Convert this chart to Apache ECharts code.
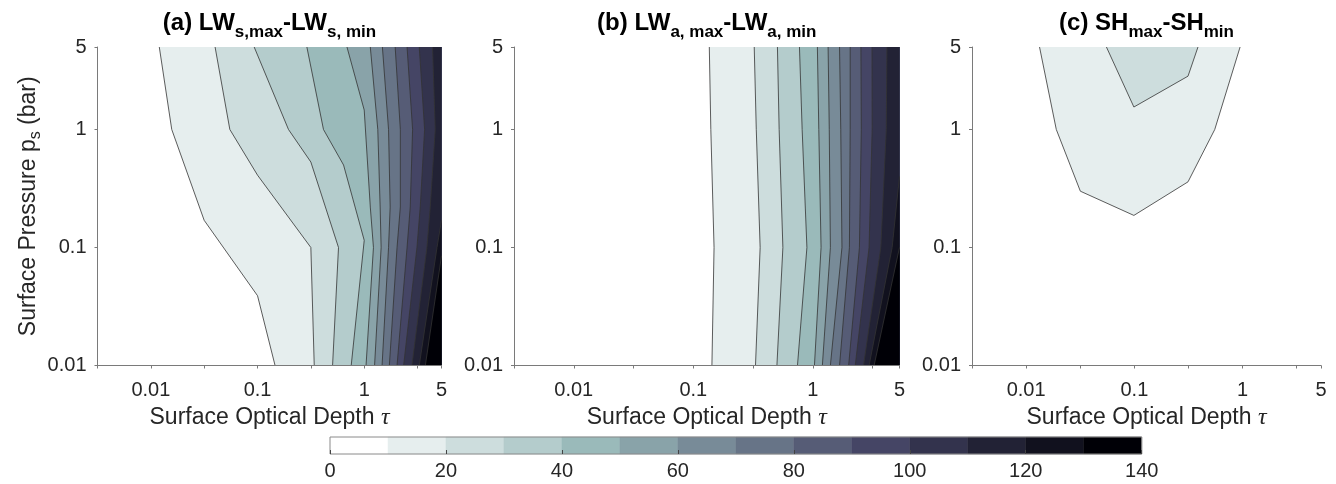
<!DOCTYPE html>
<html>
<head>
<meta charset="utf-8">
<script src="https://cdn.jsdelivr.net/npm/echarts@6/dist/echarts.min.js"></script>
<style>
  html, body { margin: 0; padding: 0; background: #ffffff; }
  #chart { width: 1336px; height: 484px; }
</style>
</head>
<body>
<div id="chart"></div>
<script>
// ---------------------------------------------------------------------------
// Data
// ---------------------------------------------------------------------------
// Contour levels (W m^-2); bands are 10 wide from 0 to 140.
const levels = [0, 10, 20, 30, 40, 50, 60, 70, 80, 90, 100, 110, 120, 130, 140];

// Axis ranges: surface optical depth tau (x) and surface pressure p_s in bar (y).
const tauRange = [Math.pow(10, -2.5), 5.3];
const pRange = [0.01, 5];

// Labelled ticks.
const tauTickValues = [0.01, 0.1, 1, 5.3];
const tauTickText = ['0.01', '0.1', '1', '5'];
const pTickValues = [0.01, 0.1, 1, 5];
const pTickText = ['0.01', '0.1', '1', '5'];
const cbarTickStep = 20;

// Each contour is a path of [tau, p_s] vertices, one path per level.
// (a) LW_s,max - LW_s,min
const lwsLevels = [10, 20, 30, 40, 50, 60, 70, 80, 90, 100, 110, 120, 130];
const lwsPaths = [
  [[0.012, 5], [0.0157, 1], [0.0316, 0.17], [0.1, 0.039], [0.146, 0.01]],
  [[0.040, 5], [0.055, 1], [0.1, 0.41], [0.316, 0.1], [0.34, 0.01]],
  [[0.093, 5], [0.195, 1], [0.316, 0.53], [0.574, 0.1], [0.505, 0.01]],
  [[0.29, 5], [0.415, 1], [0.64, 0.5], [1.0, 0.115], [0.755, 0.01]],
  [[0.689, 5], [1.0, 1.46], [1.14, 0.22], [1.22, 0.1], [1.04, 0.01]],
  [[1.14, 5], [1.34, 1], [1.41, 0.22], [1.44, 0.1], [1.25, 0.01]],
  [[1.48, 5], [1.69, 1], [1.75, 0.22], [1.69, 0.1], [1.47, 0.01]],
  [[1.95, 5], [2.18, 1], [2.18, 0.22], [2.03, 0.1], [1.72, 0.01]],
  [[2.52, 5], [2.84, 1], [2.70, 0.22], [2.52, 0.1], [2.03, 0.01]],
  [[3.28, 5], [3.68, 1], [3.35, 0.22], [3.12, 0.1], [2.34, 0.01]],
  [[4.37, 5], [4.63, 1], [4.16, 0.22], [3.87, 0.1], [2.80, 0.01]],
  [[5.3, 0.17], [4.81, 0.1], [3.28, 0.01]],
  [[5.3, 0.085], [3.74, 0.01]]
];

// (b) LW_a,max - LW_a,min
const lwaLevels = [10, 20, 30, 40, 50, 60, 70, 80, 90, 100, 110, 120, 130];
const lwaPaths = [
  [[0.136, 5], [0.140, 1], [0.149, 0.1], [0.143, 0.01]],
  [[0.323, 5], [0.336, 1], [0.362, 0.1], [0.331, 0.01]],
  [[0.505, 5], [0.522, 1], [0.561, 0.1], [0.500, 0.01]],
  [[0.772, 5], [0.813, 1], [0.891, 0.1], [0.743, 0.01]],
  [[1.09, 5], [1.12, 1], [1.17, 0.1], [1.03, 0.01]],
  [[1.34, 5], [1.37, 1], [1.40, 0.1], [1.20, 0.01]],
  [[1.67, 5], [1.71, 1], [1.75, 0.1], [1.40, 0.01]],
  [[2.05, 5], [2.05, 1], [2.02, 0.1], [1.67, 0.01]],
  [[2.52, 5], [2.54, 1], [2.45, 0.1], [1.99, 0.01]],
  [[3.12, 5], [3.13, 1], [2.95, 0.1], [2.26, 0.01]],
  [[4.16, 5], [4.11, 1], [3.70, 0.1], [2.65, 0.01]],
  [[5.3, 0.4], [4.6, 0.1], [2.95, 0.01]],
  [[5.3, 0.1], [3.25, 0.01]]
];

// (c) SH_max - SH_min
const shLevels = [10, 20];
const shPaths = [
  [[0.0133, 5], [0.019, 1], [0.0317, 0.30], [0.099, 0.187], [0.313, 0.36], [0.553, 1], [0.948, 5]],
  [[0.0552, 5], [0.099, 1.55], [0.313, 2.83], [0.387, 5]]
];

// ---------------------------------------------------------------------------
// Colour map: reversed MATLAB "bone" with one colour per band
// ---------------------------------------------------------------------------
function boneMap(m) {
  const n = Math.floor(3 / 8 * m);
  const out = [];
  for (let i = 0; i < m; i++) {
    const hr = i < n ? (i + 1) / n : 1;
    const hg = i < n ? 0 : (i < 2 * n ? (i - n + 1) / n : 1);
    const hb = i < 2 * n ? 0 : (i - 2 * n + 1) / (m - 2 * n);
    const g = i / (m - 1);
    const rgb = [(7 * g + hb) / 8, (7 * g + hg) / 8, (7 * g + hr) / 8]
      .map(v => Math.round(Math.min(1, v) * 255));
    out.push('rgb(' + rgb.join(',') + ')');
  }
  return out;
}
const palette = boneMap(levels.length - 1).reverse();

// ---------------------------------------------------------------------------
// Styling helpers
// ---------------------------------------------------------------------------
const FONT = '"Liberation Sans", Helvetica, Arial, sans-serif';
const TEXT = '#262626';
const AXIS = '#7a7a7a';
const LINE = '#333333';

const lg = v => Math.log10(v);
const xMin = lg(tauRange[0]), xMax = lg(tauRange[1]);
const yMin = lg(pRange[0]), yMax = lg(pRange[1]);

function tickText(v, values, texts) {
  for (let i = 0; i < values.length; i++) {
    if (Math.abs(v - lg(values[i])) < 1e-4) return texts[i];
  }
  return '';
}

const grids = [
  { left: 97.5, top: 47, width: 344, height: 318.5 },
  { left: 514, top: 47, width: 385.5, height: 318.5 },
  { left: 972, top: 47, width: 349, height: 318.5 },
  { left: 330, top: 437, width: 811.7, height: 17 }
];

function tauAxis(gridIndex) {
  return {
    type: 'value', gridIndex, z: 5,
    min: xMin, max: xMax, interval: 0.5,
    axisLine: { show: true, onZero: false, lineStyle: { color: AXIS, width: 1 } },
    axisTick: { show: true, inside: false, length: 3, lineStyle: { color: AXIS } },
    splitLine: { show: false },
    axisLabel: {
      fontSize: 20, fontFamily: FONT, color: TEXT, margin: 15, lineHeight: 20,
      showMinLabel: true, showMaxLabel: true, hideOverlap: false,
      formatter: v => tickText(v, tauTickValues, tauTickText)
    },
    name: '{n|Surface Optical Depth }{t|τ}',
    nameLocation: 'middle', nameGap: 37,
    nameTextStyle: {
      rich: {
        n: { fontSize: 23, fontFamily: FONT, color: TEXT, lineHeight: 23 },
        t: { fontSize: 24, fontFamily: '"Liberation Serif", "DejaVu Serif", serif', fontStyle: 'italic', color: TEXT, lineHeight: 23 }
      }
    }
  };
}

function pAxis(gridIndex, withName) {
  const ax = {
    type: 'value', gridIndex, z: 5,
    min: yMin, max: yMax, interval: 1,
    axisLine: { show: true, onZero: false, lineStyle: { color: AXIS, width: 1 } },
    axisTick: { show: true, inside: false, length: 3, lineStyle: { color: AXIS } },
    splitLine: { show: false },
    axisLabel: {
      fontSize: 20, fontFamily: FONT, color: TEXT, margin: 11,
      showMinLabel: true, showMaxLabel: true, hideOverlap: false,
      formatter: v => tickText(v, pTickValues, pTickText)
    }
  };
  if (withName) {
    ax.name = '{n|Surface Pressure p}{s|s}{n| (bar)}';
    ax.nameLocation = 'middle';
    ax.nameRotate = 90;
    ax.nameGap = 48;
    ax.nameTextStyle = {
      rich: {
        n: { fontSize: 23, fontFamily: FONT, color: TEXT, lineHeight: 23, verticalAlign: 'top' },
        s: { fontSize: 16, fontFamily: FONT, color: TEXT, lineHeight: 16, padding: [11, 0, 0, 0], verticalAlign: 'top' }
      }
    };
  }
  return ax;
}

// Filled contour bands: each path is closed against the right/bottom frame
// (or on itself when both ends sit on the top edge) and painted in level order.
function closedRing(path) {
  const pts = path.map(q => [lg(q[0]), lg(q[1])]);
  const last = path[path.length - 1];
  if (Math.abs(last[1] - pRange[0]) < 1e-9) {
    pts.push([xMax, yMin], [xMax, yMax]);
  }
  return pts;
}

function contourSeries(gridIndex, lvls, paths) {
  const data = paths.map((path, i) => [lg(path[0][0]), lg(path[0][1]), lvls[i], i]);
  const fills = {
    type: 'custom', xAxisIndex: gridIndex, yAxisIndex: gridIndex,
    coordinateSystem: 'cartesian2d', clip: true, silent: true, z: 2,
    encode: { x: 0, y: 1 }, data,
    renderItem(params, api) {
      const ring = closedRing(paths[api.value(3)]).map(q => api.coord(q));
      return {
        type: 'polygon',
        shape: { points: ring },
        style: { fill: palette[Math.round(api.value(2) / 10)], stroke: null }
      };
    }
  };
  const lines = {
    type: 'custom', xAxisIndex: gridIndex, yAxisIndex: gridIndex,
    coordinateSystem: 'cartesian2d', clip: true, silent: true, z: 3,
    encode: { x: 0, y: 1 }, data,
    renderItem(params, api) {
      const pts = paths[api.value(3)].map(q => api.coord([lg(q[0]), lg(q[1])]));
      return {
        type: 'polyline',
        shape: { points: pts },
        style: { stroke: LINE, lineWidth: 0.8, fill: null }
      };
    }
  };
  return [fills, lines];
}

// Colour bar cells built from the level list.
const cbarBins = levels.slice(0, -1).map((lo, i) => [lo, levels[i + 1], i]);
const cbarSeries = [
  {
    type: 'custom', xAxisIndex: 3, yAxisIndex: 3, silent: true, z: 2,
    encode: { x: [0, 1] }, data: cbarBins,
    renderItem(params, api) {
      const a = api.coord([api.value(0), 1]);
      const b = api.coord([api.value(1), 0]);
      const c = palette[api.value(2)];
      return {
        type: 'rect',
        shape: { x: a[0], y: a[1], width: b[0] - a[0], height: b[1] - a[1] },
        style: { fill: c, stroke: c, lineWidth: 0.5 }
      };
    }
  },
  {
    type: 'custom', xAxisIndex: 3, yAxisIndex: 3, silent: true, z: 4,
    encode: { x: [0, 1] }, data: [[levels[0], levels[levels.length - 1]]],
    renderItem(params, api) {
      const a = api.coord([api.value(0), 1]);
      const b = api.coord([api.value(1), 0]);
      return {
        type: 'rect',
        shape: { x: a[0], y: a[1], width: b[0] - a[0], height: b[1] - a[1] },
        style: { fill: null, stroke: '#8a8a8a', lineWidth: 1 }
      };
    }
  }
];

// Panel titles with subscripts.
const titleRich = {
  m: { fontSize: 24, fontWeight: 'bold', fontFamily: FONT, fill: '#000', lineHeight: 24, verticalAlign: 'top' },
  s: { fontSize: 17, fontWeight: 'bold', fontFamily: FONT, fill: '#000', lineHeight: 17, padding: [13, 0, 0, 0], verticalAlign: 'top' }
};
const titles = [
  '{m|(a) LW}{s|s,max}{m|-LW}{s|s, min}',
  '{m|(b) LW}{s|a, max}{m|-LW}{s|a, min}',
  '{m|(c) SH}{s|max}{m|-SH}{s|min}'
];

const chart = echarts.init(document.getElementById('chart'), null, { renderer: 'canvas' });
chart.setOption({
  animation: false,
  backgroundColor: '#ffffff',
  textStyle: { fontFamily: FONT },
  grid: grids.map(g => Object.assign({ containLabel: false }, g)),
  xAxis: [
    tauAxis(0), tauAxis(1), tauAxis(2),
    {
      type: 'value', gridIndex: 3, min: levels[0], max: levels[levels.length - 1], interval: cbarTickStep, z: 5,
      axisLine: { show: false },
      axisTick: { show: true, inside: true, length: 4, lineStyle: { color: '#444' } },
      splitLine: { show: false },
      axisLabel: { fontSize: 20, fontFamily: FONT, color: TEXT, margin: 7, lineHeight: 20 }
    }
  ],
  yAxis: [
    pAxis(0, true), pAxis(1, false), pAxis(2, false),
    { type: 'value', gridIndex: 3, min: 0, max: 1, show: false }
  ],
  graphic: titles.map((t, i) => ({
    type: 'text',
    x: grids[i].left + grids[i].width / 2,
    y: 11,
    silent: true,
    style: { text: t, rich: titleRich, align: 'center', verticalAlign: 'top' }
  })),
  series: [
    ...contourSeries(0, lwsLevels, lwsPaths),
    ...contourSeries(1, lwaLevels, lwaPaths),
    ...contourSeries(2, shLevels, shPaths),
    ...cbarSeries
  ]
});
</script>
</body>
</html>
